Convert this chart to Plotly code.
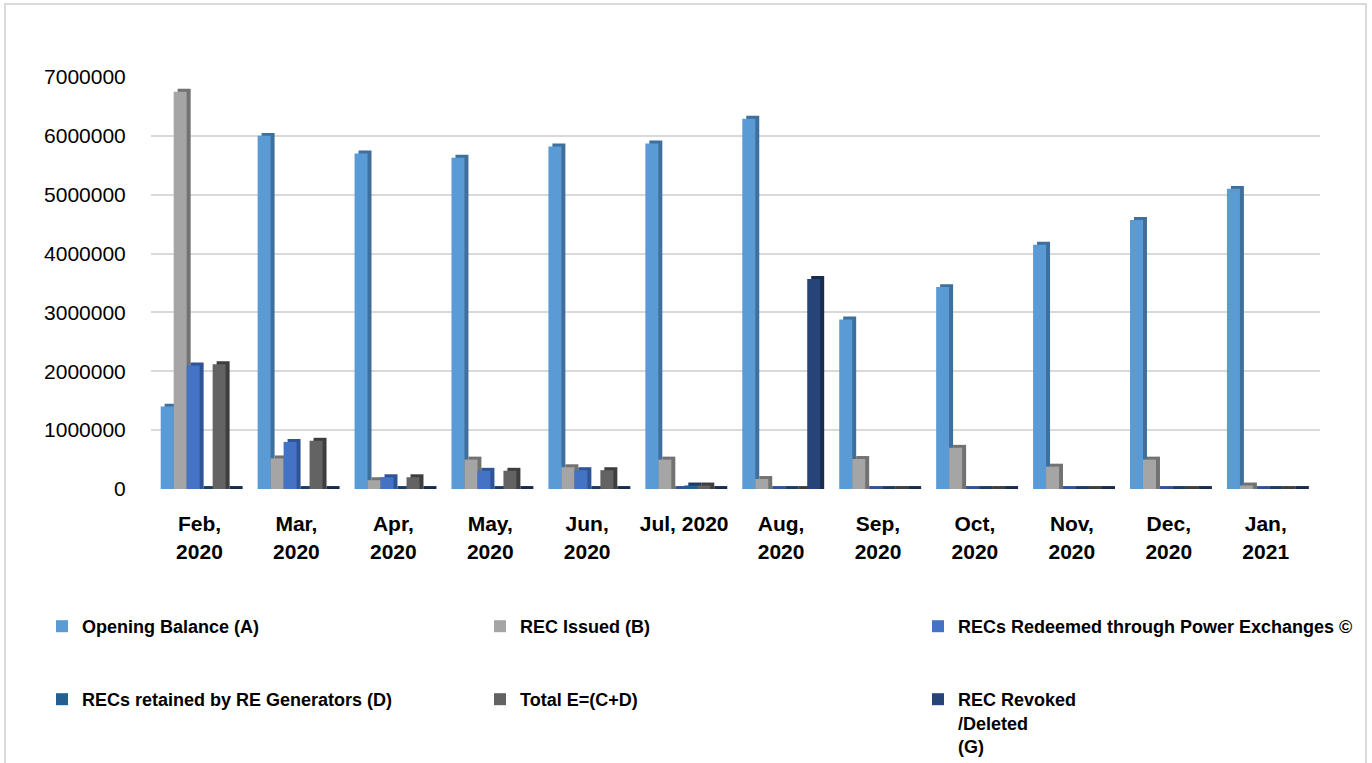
import plotly.graph_objects as go

months = ["Feb,<br>2020", "Mar,<br>2020", "Apr,<br>2020", "May,<br>2020", "Jun,<br>2020",
          "Jul, 2020", "Aug,<br>2020", "Sep,<br>2020", "Oct,<br>2020", "Nov,<br>2020",
          "Dec,<br>2020", "Jan,<br>2021"]

opening_balance_a = [1400000, 6000000, 5700000, 5630000, 5820000, 5870000, 6290000,
                     2880000, 3430000, 4150000, 4570000, 5100000]
rec_issued_b = [6750000, 520000, 150000, 500000, 370000, 500000, 170000,
                510000, 700000, 380000, 500000, 60000]
redeemed_px_c = [2100000, 800000, 200000, 310000, 320000, 0, 0, 0, 0, 0, 0, 0]
retained_d = [0, 0, 0, 0, 0, 60000, 0, 0, 0, 0, 0, 0]
total_e = [2120000, 820000, 200000, 310000, 320000, 60000, 0, 0, 0, 0, 0, 0]
revoked_g = [0, 0, 0, 0, 0, 0, 3570000, 0, 0, 0, 0, 0]

series = [
    ("Opening Balance (A)", opening_balance_a, "#5B9BD5", "#3F6F9C", "legend"),
    ("REC Issued (B)", rec_issued_b, "#A5A5A5", "#727272", "legend"),
    ("RECs Redeemed through Power Exchanges ©", redeemed_px_c, "#4472C4", "#2F5495", "legend"),
    ("RECs retained by RE Generators (D)", retained_d, "#255E91", "#173E62", "legend2"),
    ("Total E=(C+D)", total_e, "#636363", "#3E3E3E", "legend2"),
    ("REC Revoked<br>/Deleted<br>(G)", revoked_g, "#264478", "#172B4F", "legend2"),
]

W = 1372
H = 763
ML, MR, MT, MB = 151, 52, 77, 274
plot_w = W - ML - MR
plot_h = H - MT - MB

bar_w = 0.134
start = -0.40
depth_x = 0.041
depth_y = 50000

fig = go.Figure()
for i, (name, vals, col, side, lg) in enumerate(series):
    off = start + i * bar_w
    # side/top face (pseudo-3D depth)
    fig.add_trace(go.Bar(
        x=months, y=[v + depth_y for v in vals], offset=off + depth_x, width=bar_w,
        marker=dict(color=side, line=dict(width=0)), showlegend=False, hoverinfo="skip",
    ))
    fig.add_trace(go.Bar(
        x=months, y=vals, offset=off, width=bar_w, name=name, legend=lg,
        marker=dict(color=col, line=dict(width=0)),
    ))


def px_x(p):
    return (p - ML) / plot_w


def px_y(p):
    return (H - MB - p) / plot_h


legend_common = dict(
    orientation="h", entrywidth=393, entrywidthmode="pixels",
    font=dict(family="Liberation Sans, Arial, sans-serif", size=18, color="#000000", weight="bold"),
    bgcolor="rgba(0,0,0,0)", xanchor="left", yanchor="top", traceorder="normal",
    itemclick=False, itemdoubleclick=False,
)

fig.update_layout(
    width=W, height=H,
    margin=dict(l=ML, r=MR, t=MT, b=MB, autoexpand=False),
    paper_bgcolor="#FFFFFF", plot_bgcolor="#FFFFFF",
    barmode="overlay",
    font=dict(family="Liberation Sans, Arial, sans-serif", color="#000000"),
    xaxis=dict(
        type="category", range=[-0.5, 11.56], showgrid=False, zeroline=False, showline=False,
        ticks="outside", ticklen=16, tickcolor="rgba(0,0,0,0)",
        tickfont=dict(size=21, weight="bold", color="#000000"),
    ),
    yaxis=dict(
        range=[0, 7000000], tickvals=[i * 1000000 for i in range(8)], tickformat="d",
        showgrid=True, gridcolor="#D9D9D9", gridwidth=2, zeroline=False, showline=False,
        ticks="outside", ticklen=20, tickcolor="rgba(0,0,0,0)",
        tickfont=dict(size=21, color="#000000"),
    ),
    legend=dict(**legend_common, x=px_x(42), y=px_y(608), valign="middle"),
    legend2=dict(**legend_common, x=px_x(42), y=px_y(681), valign="top"),
    shapes=[dict(type="rect", xref="paper", yref="paper",
                 x0=px_x(5), x1=px_x(1366), y0=px_y(800), y1=px_y(4),
                 line=dict(color="#D9D9D9", width=2), fillcolor="rgba(0,0,0,0)", layer="below")],
)

fig.write_html("out.html")
